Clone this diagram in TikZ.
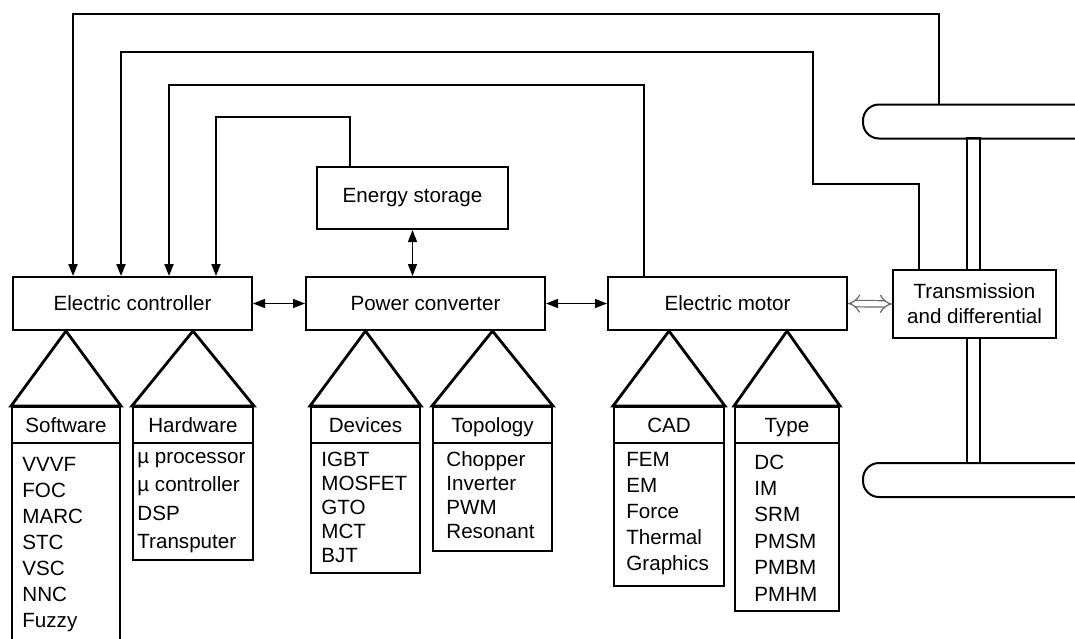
\documentclass[tikz,border=0pt]{standalone}
\usepackage{fontspec}
\setmainfont{Liberation Sans}
\usetikzlibrary{arrows.meta}
\tikzset{
  box/.style={draw,line width=1pt,inner sep=0pt,minimum height=26.5pt,minimum width=119.5pt,align=center},
  sub/.style={draw,line width=1pt,inner sep=0pt,anchor=north west},
  tri/.style={line width=1.4pt,line join=miter},
  lbl/.style={inner sep=0pt,anchor=base},
  item/.style={inner sep=0pt,anchor=base west},
  arr/.style={line width=1pt,-{Triangle[length=6pt,width=4.5pt]}},
  darr/.style={line width=0.7pt,{Triangle[length=6pt,width=4.5pt]}-{Triangle[length=6pt,width=4.5pt]}},
  wheel/.style={draw,line width=1pt,rounded corners=8pt,minimum width=116pt,minimum height=17pt,inner sep=0pt},
}
\begin{document}
\begin{tikzpicture}[x=0.5pt,y=-0.5pt,font=\fontsize{10.3}{12.4}\selectfont]
    \useasboundingbox (0,0) rectangle (1075,638);
    % wheels and axle
    \draw[line width=1pt,fill=white] (967,138) rectangle (980,463);
    \node[wheel] (wheelT) at (979,121.5) {};
    \node[wheel] (wheelB) at (979,480) {};
    % main blocks
    \node[box] (ctrl) at (132.5,303.5) {Electric controller};
    \node[box] (conv) at (425.5,303.5) {Power converter};
    \node[box] (motor) at (727.5,303.5) {Electric motor};
    \node[box,minimum width=95.5pt,minimum height=31pt] (store) at (412.5,198) {Energy storage};
    \node[box,fill=white,minimum width=81.5pt,minimum height=34pt] (trans) at (974.5,304) {Transmission\\and differential};
    % power flow
    \draw[darr] (ctrl) -- (conv);
    \draw[darr] (conv) -- (motor);
    \draw[darr] (store.south) -- (store.south |- conv.north);
    \draw[draw=gray!80!black,line width=0.6pt,double=white,double distance=2.6pt,{Implies}-{Implies}] (motor.east) -- (trans.west);
    % feedback lines
    \coordinate (k1) at (73,14);
    \draw[arr] ([xshift=38.5pt]wheelT.north west) |- (k1) -- (k1 |- ctrl.north);
    \coordinate (k2a) at (813,184);
    \coordinate (k2b) at (121,52);
    \draw[arr] ([xshift=13.5pt]trans.north west) |- (k2a) |- (k2b) -- (k2b |- ctrl.north);
    \coordinate (k3) at (169,85);
    \draw[arr] ([xshift=18.5pt]motor.north west) |- (k3) -- (k3 |- ctrl.north);
    \coordinate (k4) at (216,117);
    \draw[arr] ([xshift=17pt]store.north west) |- (k4) -- (k4 |- ctrl.north);
    % sub blocks
    \foreach \nm/\up/\xl/\xr/\yb/\hd in {
        sw/ctrl/11/119/660/Software,
        hw/ctrl/132/252/559/Hardware,
        dev/conv/310/419/572/Devices,
        topo/conv/432/551/550/Topology,
        cad/motor/613/723/585/CAD,
        typ/motor/734/838/610/Type}
    {
        \node[sub,minimum width={(\xr-\xl)*0.5pt},minimum height={(\yb-406)*0.5pt}] (\nm) at (\xl,406) {};
        \draw[tri] (\nm.north west) -- (\nm.north |- \up.south) -- (\nm.north east) -- cycle;
        \draw[line width=1pt] ([yshift=-18.5pt]\nm.north west) -- ([yshift=-18.5pt]\nm.north east);
        \node[lbl] (\nm-hd) at ([yshift=-13.3pt]\nm.north) {\hd};
    }
    % item lists
    \foreach \t [count=\i from 0] in {VVVF,FOC,MARC,STC,VSC,NNC,Fuzzy}
        \node[item] (sw-\i) at (22,{471+26*\i}) {\t};
    \foreach \t [count=\i from 0] in {µ processor,µ controller,DSP,Transputer}
        \node[item] (hw-\i) at (137,{463+28.5*\i}) {\t};
    \foreach \t [count=\i from 0] in {IGBT,MOSFET,GTO,MCT,BJT}
        \node[item] (dev-\i) at (321,{466+24*\i}) {\t};
    \foreach \t [count=\i from 0] in {Chopper,Inverter,PWM,Resonant}
        \node[item] (topo-\i) at (446,{466+24*\i}) {\t};
    \foreach \t [count=\i from 0] in {FEM,EM,Force,Thermal,Graphics}
        \node[item] (cad-\i) at (626,{466+26*\i}) {\t};
    \foreach \t [count=\i from 0] in {DC,IM,SRM,PMSM,PMBM,PMHM}
        \node[item] (typ-\i) at (754,{469+26.4*\i}) {\t};
\end{tikzpicture}
\end{document}
